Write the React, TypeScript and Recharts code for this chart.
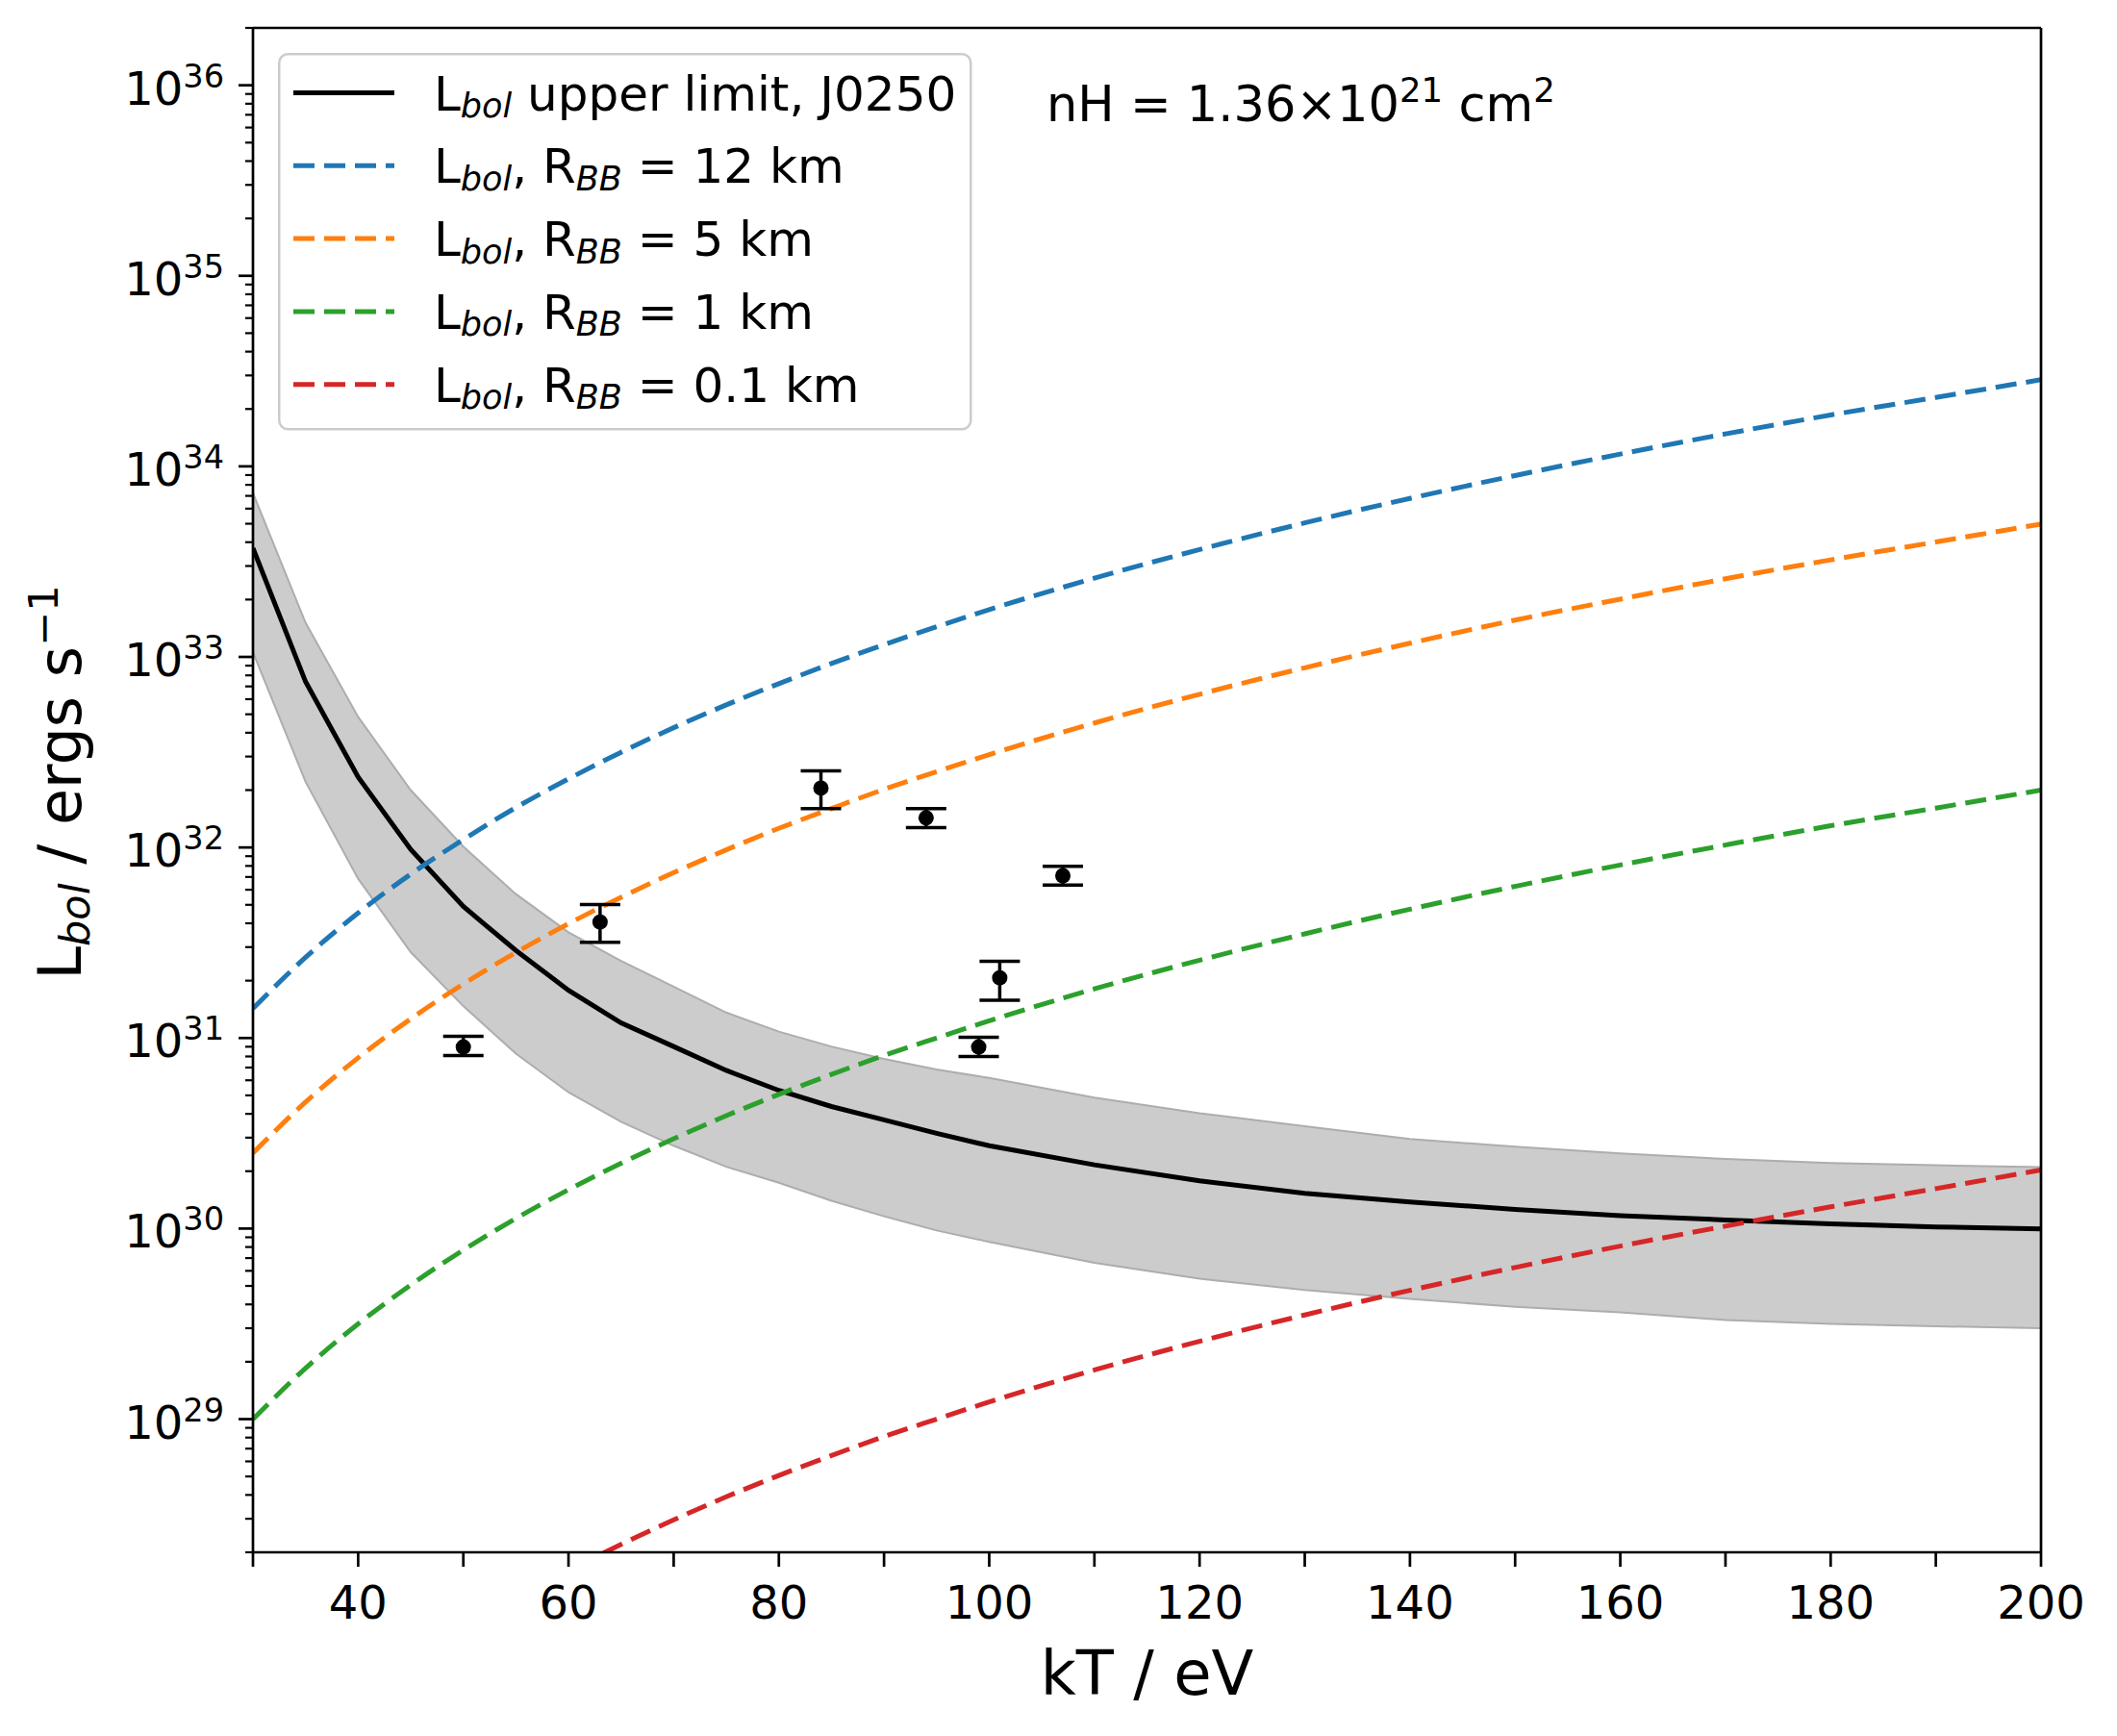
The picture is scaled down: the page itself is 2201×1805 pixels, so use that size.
import React from "react";
import {
  ComposedChart,
  Line,
  Area,
  Scatter,
  ErrorBar,
  XAxis,
  YAxis,
  ReferenceLine,
  Legend,
  Customized,
} from "recharts";

const FONT = "DejaVu Sans, Verdana, sans-serif";

// temperature grid (eV)
const kTGrid = [30, 35, 40, 45, 50, 55, 60, 65, 70, 75, 80, 85, 90, 95, 100, 110, 120, 130, 140, 150, 160, 170, 180, 190, 200];

// Lbol upper limit for J0250 and its shaded range
const upperLimit = [3.72e33, 7.41e32, 2.34e32, 9.77e31, 4.9e31, 2.88e31, 1.78e31, 1.2e31, 9.02e30, 6.76e30, 5.31e30, 4.37e30, 3.72e30, 3.16e30, 2.72e30, 2.16e30, 1.78e30, 1.53e30, 1.38e30, 1.26e30, 1.17e30, 1.11e30, 1.06e30, 1.02e30, 9.95e29];
const bandHigh = [7.24e33, 1.51e33, 4.84e32, 2.0e32, 1.01e32, 5.69e31, 3.59e31, 2.54e31, 1.86e31, 1.36e31, 1.08e31, 9.02e30, 7.76e30, 6.84e30, 6.17e30, 4.86e30, 4.03e30, 3.44e30, 2.95e30, 2.69e30, 2.48e30, 2.32e30, 2.21e30, 2.15e30, 2.1e30];
const bandLow = [1.06e33, 2.21e32, 6.85e31, 2.82e31, 1.47e31, 8.28e30, 5.19e30, 3.63e30, 2.72e30, 2.11e30, 1.74e30, 1.4e30, 1.16e30, 9.77e29, 8.51e29, 6.61e29, 5.46e29, 4.76e29, 4.27e29, 3.89e29, 3.63e29, 3.31e29, 3.16e29, 3.07e29, 3.0e29];

// blackbody luminosities for several radii
const lbol12km = [1.43e31, 2.65e31, 4.53e31, 7.24e31, 1.1e32, 1.62e32, 2.29e32, 3.16e32, 4.25e32, 5.6e32, 7.24e32, 9.23e32, 1.16e33, 1.44e33, 1.77e33, 2.59e33, 3.66e33, 5.05e33, 6.79e33, 8.95e33, 1.16e34, 1.48e34, 1.86e34, 2.3e34, 2.85e34];
const lbol5km = [2.49e30, 4.61e30, 7.87e30, 1.26e31, 1.92e31, 2.81e31, 3.98e31, 5.48e31, 7.38e31, 9.72e31, 1.26e32, 1.6e32, 2.02e32, 2.5e32, 3.07e32, 4.5e32, 6.37e32, 8.77e32, 1.18e33, 1.56e33, 2.01e33, 2.57e33, 3.23e33, 4.01e33, 4.98e33];
const lbol1km = [1.0e29, 1.85e29, 3.16e29, 5.06e29, 7.71e29, 1.13e30, 1.6e30, 2.2e30, 2.96e30, 3.91e30, 5.06e30, 6.44e30, 8.1e30, 1.0e31, 1.23e31, 1.81e31, 2.56e31, 3.52e31, 4.74e31, 6.25e31, 8.09e31, 1.03e32, 1.3e32, 1.61e32, 2.0e32];
const lbol01km = [1.0e27, 1.85e27, 3.16e27, 5.06e27, 7.71e27, 1.13e28, 1.6e28, 2.2e28, 2.96e28, 3.91e28, 5.06e28, 6.44e28, 8.1e28, 1.0e29, 1.23e29, 1.81e29, 2.56e29, 3.52e29, 4.74e29, 6.25e29, 8.09e29, 1.03e30, 1.3e30, 1.62e30, 2.03e30];

// measured points with error bars
const obsKT = [50, 63, 84, 94, 99, 101, 107];
const obsL = [8.97e30, 4.06e31, 2.05e32, 1.43e32, 8.97e30, 2.07e31, 7.11e31];
const obsLow = [8.09e30, 3.18e31, 1.6e32, 1.27e32, 8.0e30, 1.58e31, 6.34e31];
const obsHigh = [1.02e31, 5.01e31, 2.52e32, 1.6e32, 1.01e31, 2.53e31, 7.96e31];

// axes
const xTicks = [30, 40, 50, 60, 70, 80, 90, 100, 110, 120, 130, 140, 150, 160, 170, 180, 190, 200];
const xLabeled = [40, 60, 80, 100, 120, 140, 160, 180, 200];
const yDecades = [28, 29, 30, 31, 32, 33, 34, 35, 36];
const yMinorSteps = [1, 2, 3, 4, 5, 6, 7, 8, 9];
const yTicks = yDecades
  .flatMap((e) => yMinorSteps.map((m) => m * Math.pow(10, e)))
  .filter((v) => v >= 2e28 && v <= 2e36);

const legendNames = ["12 km", "5 km", "1 km", "0.1 km"];
const legendColors = ["#1f77b4", "#ff7f0e", "#2ca02c", "#d62728"];
const seriesKeys = ["r12", "r5", "r1", "r01"];

const rows = kTGrid.map((kT, i) => ({
  kT,
  upper: upperLimit[i],
  band: [bandLow[i], bandHigh[i]],
  r12: lbol12km[i],
  r5: lbol5km[i],
  r1: lbol1km[i],
  r01: lbol01km[i],
}));

const obs = obsKT.map((kT, i) => ({
  kT,
  L: obsL[i],
  err: [obsL[i] - obsLow[i], obsHigh[i] - obsL[i]],
}));

const XTick = (props: any) => {
  const { x, y, payload } = props;
  const v = payload.value;
  return (
    <g>
      <line x1={x} x2={x} y1={y} y2={y + 15} stroke="#000" strokeWidth={2.7} />
      {xLabeled.includes(v) && (
        <text x={x} y={y + 69} textAnchor="middle" fontSize={48} fontFamily={FONT} fill="#000">
          {v}
        </text>
      )}
    </g>
  );
};

const YTick = (props: any) => {
  const { x, y, payload } = props;
  const lg = Math.log10(payload.value);
  const exp = Math.round(lg);
  const major = Math.abs(lg - exp) < 1e-6;
  return (
    <g>
      <line x1={x - (major ? 15 : 8)} x2={x} y1={y} y2={y} stroke="#000" strokeWidth={major ? 2.7 : 2.2} />
      {major && (
        <text x={x - 30} y={y + 20} textAnchor="end" fontSize={48} fontFamily={FONT} fill="#000">
          <tspan>10</tspan>
          <tspan dy={-18} fontSize={33.6}>
            {exp}
          </tspan>
        </text>
      )}
    </g>
  );
};

const XLabel = (props: any) => {
  const vb = props.viewBox;
  return (
    <text x={vb.x + vb.width / 2} y={vb.y + 148} textAnchor="middle" fontSize={64} fontFamily={FONT} fill="#000">
      kT / eV
    </text>
  );
};

const YLabel = (props: any) => {
  const vb = props.viewBox;
  const cx = vb.x + 21;
  const cy = vb.y + vb.height / 2 - 8;
  return (
    <text
      x={cx}
      y={cy}
      textAnchor="middle"
      fontSize={62}
      fontFamily={FONT}
      fill="#000"
      transform={`rotate(-90, ${cx}, ${cy})`}
    >
      <tspan>L</tspan>
      <tspan dy={9} fontSize={43} fontStyle="italic">bol</tspan>
      <tspan dy={-9}> / ergs s</tspan>
      <tspan dy={-24} fontSize={43}>−1</tspan>
    </text>
  );
};

const NHNote = () => (
  <text x={1088} y={126} fontSize={51} fontFamily={FONT} fill="#000">
    <tspan>nH = 1.36×10</tspan>
    <tspan dy={-20} fontSize={35.5}>21</tspan>
    <tspan dy={20}> cm</tspan>
    <tspan dy={-20} fontSize={35.5}>2</tspan>
  </text>
);

const LegendBox = () => {
  const rowY = (i: number) => 41.5 + i * 75.8;
  return (
    <svg width={722} height={394} style={{ display: "block" }}>
      <rect x={1.25} y={1.25} width={719} height={390} rx={9} fill="#fff" fillOpacity={0.8} stroke="#cccccc" strokeWidth={2.5} />
      <line x1={16} x2={121} y1={rowY(0)} y2={rowY(0)} stroke="#000" strokeWidth={5} />
      <text x={162} y={rowY(0) + 18} fontSize={50} fontFamily={FONT} fill="#000">
        <tspan>L</tspan>
        <tspan dy={7.5} fontSize={35} fontStyle="italic">bol</tspan>
        <tspan dy={-7.5}> upper limit, J0250</tspan>
      </text>
      {legendNames.map((name, i) => (
        <g key={name}>
          <line
            x1={16}
            x2={121}
            y1={rowY(i + 1)}
            y2={rowY(i + 1)}
            stroke={legendColors[i]}
            strokeWidth={5}
            strokeDasharray="22 10"
          />
          <text x={162} y={rowY(i + 1) + 18} fontSize={50} fontFamily={FONT} fill="#000">
            <tspan>L</tspan>
            <tspan dy={7.5} fontSize={35} fontStyle="italic">bol</tspan>
            <tspan dy={-7.5}>, R</tspan>
            <tspan dy={7.5} fontSize={35} fontStyle="italic">BB</tspan>
            <tspan dy={-7.5}> = {name}</tspan>
          </text>
        </g>
      ))}
    </svg>
  );
};

const Dot = (props: any) => <circle cx={props.cx} cy={props.cy} r={8} fill="#000" />;

export default function App() {
  return (
    <div style={{ position: "absolute", left: 0, top: 0, width: 2201, height: 1805, background: "#fff" }}>
      <ComposedChart width={2201} height={1805} data={rows} margin={{ top: 29, right: 79, bottom: 71, left: 63 }}>
        <XAxis
          dataKey="kT"
          type="number"
          domain={[30, 200]}
          ticks={xTicks}
          interval={0}
          allowDataOverflow
          height={120}
          tickSize={0}
          tickMargin={0}
          tickLine={false}
          tick={<XTick />}
          axisLine={{ stroke: "#000", strokeWidth: 2.7 }}
          label={<XLabel />}
        />
        <YAxis
          type="number"
          scale="log"
          domain={[2e28, 2e36]}
          ticks={yTicks}
          interval={0}
          allowDataOverflow
          width={200}
          tickSize={0}
          tickMargin={0}
          tickLine={false}
          tick={<YTick />}
          axisLine={{ stroke: "#000", strokeWidth: 2.7 }}
          label={<YLabel />}
        />
        <Area
          dataKey="band"
          type="linear"
          fill="#cccccc"
          fillOpacity={1}
          stroke="#adadad"
          strokeWidth={2}
          isAnimationActive={false}
          legendType="none"
          activeDot={false}
        />
        <Line dataKey="upper" type="linear" stroke="#000" strokeWidth={5} dot={false} activeDot={false} isAnimationActive={false} />
        {seriesKeys.map((k, i) => (
          <Line
            key={k}
            dataKey={k}
            type="monotone"
            stroke={legendColors[i]}
            strokeWidth={5}
            strokeDasharray="22 10"
            dot={false}
            activeDot={false}
            isAnimationActive={false}
          />
        ))}
        <Scatter data={obs} dataKey="L" shape={<Dot />} isAnimationActive={false} legendType="none">
          <ErrorBar dataKey="err" direction="y" width={21} strokeWidth={3.5} stroke="#000" isAnimationActive={false} />
        </Scatter>
        <ReferenceLine y={2e36} stroke="#000" strokeWidth={2.7} ifOverflow="visible" />
        <ReferenceLine x={200} stroke="#000" strokeWidth={2.7} ifOverflow="visible" />
        <Customized component={<NHNote />} />
        <Legend
          layout="vertical"
          align="center"
          verticalAlign="middle"
          content={() => <LegendBox />}
          wrapperStyle={{ position: "absolute", left: 289, top: 55, width: 722, height: 394 }}
        />
      </ComposedChart>
    </div>
  );
}
